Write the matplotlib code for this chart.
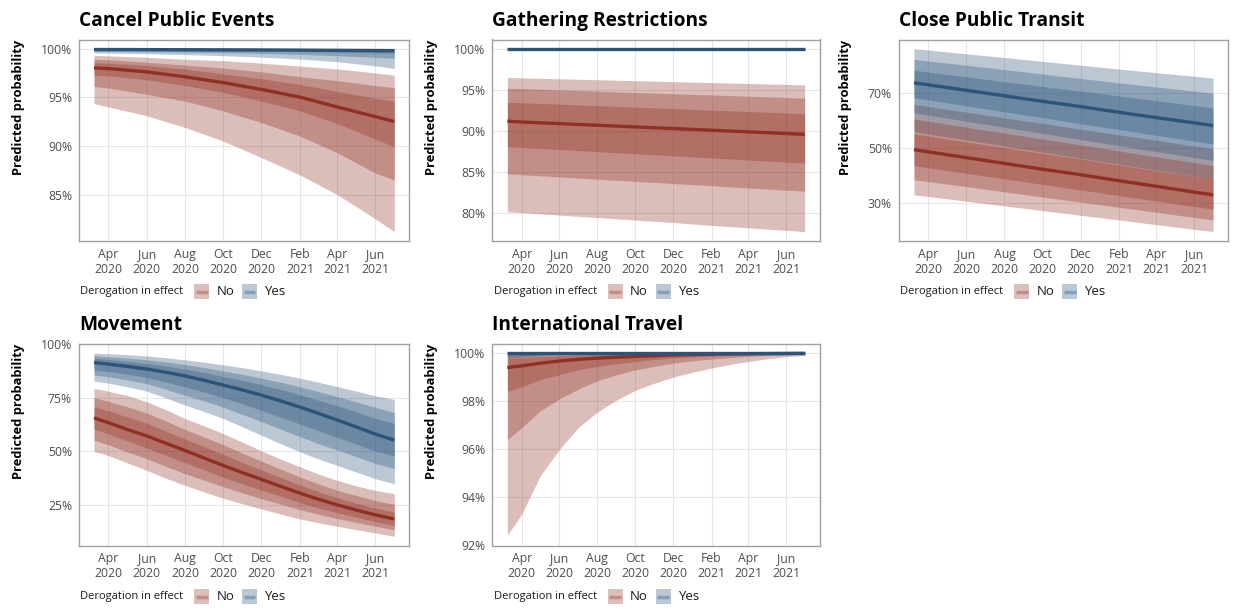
import numpy as np
import pandas as pd
import matplotlib
matplotlib.use("Agg")
import matplotlib.pyplot as plt
import matplotlib.dates as mdates
from matplotlib.patches import Rectangle
from matplotlib.lines import Line2D
from matplotlib.ticker import FuncFormatter

plt.rcParams['font.family'] = ['Open Sans', 'Noto Sans', 'DejaVu Sans']

# prediction dates (bi-monthly grid, and a monthly one for the curved panels)
dates_q = pd.to_datetime(["2020-03-09", "2020-04-01", "2020-06-01", "2020-08-01", "2020-10-01",
                          "2020-12-01", "2021-02-01", "2021-04-01", "2021-06-01", "2021-07-01"])
dates_m = pd.to_datetime(["2020-03-09", "2020-04-01", "2020-05-01", "2020-06-01", "2020-07-01",
                          "2020-08-01", "2020-09-01", "2020-10-01", "2020-11-01", "2020-12-01",
                          "2021-01-01", "2021-02-01", "2021-03-01", "2021-04-01", "2021-05-01",
                          "2021-06-01", "2021-07-01"])

# Cancel Public Events
cpe_no_fit = [98.0, 97.95, 97.6, 97.1, 96.5, 95.8, 95.0, 94.0, 93.0, 92.5]
cpe_no_lo95 = [94.35, 94.0, 93.1, 91.9, 90.5, 88.8, 87.0, 85.0, 82.5, 81.2]
cpe_no_hi95 = [99.3, 99.25, 99.1, 98.9, 98.75, 98.5, 98.2, 97.9, 97.5, 97.25]
cpe_no_lo80 = [96.1, 95.95, 95.3, 94.6, 93.6, 92.4, 91.0, 89.3, 87.2, 86.5]
cpe_no_hi80 = [98.9, 98.85, 98.6, 98.3, 98.0, 97.6, 97.1, 96.7, 96.2, 96.0]
cpe_no_lo50 = [97.25, 97.2, 96.8, 96.2, 95.5, 94.6, 93.6, 92.3, 90.7, 89.9]
cpe_no_hi50 = [98.55, 98.5, 98.25, 97.9, 97.4, 96.9, 96.3, 95.6, 94.9, 94.6]
cpe_yes_fit = [99.9, 99.9, 99.89, 99.88, 99.87, 99.86, 99.84, 99.82, 99.8, 99.79]
cpe_yes_lo95 = [99.55, 99.53, 99.47, 99.38, 99.27, 99.12, 98.92, 98.65, 98.22, 97.95]
cpe_yes_hi95 = [99.99, 99.99, 99.99, 99.99, 99.99, 99.99, 99.99, 99.99, 99.99, 99.99]
cpe_yes_lo80 = [99.72, 99.71, 99.68, 99.63, 99.58, 99.5, 99.4, 99.27, 99.1, 99.0]
cpe_yes_hi80 = [99.98, 99.98, 99.98, 99.98, 99.98, 99.97, 99.97, 99.97, 99.97, 99.97]
cpe_yes_lo50 = [99.82, 99.82, 99.8, 99.78, 99.75, 99.72, 99.68, 99.62, 99.55, 99.52]
cpe_yes_hi50 = [99.96, 99.96, 99.96, 99.96, 99.955, 99.955, 99.95, 99.95, 99.95, 99.95]

# Gathering Restrictions
gr_no_fit = [91.2, 91.1, 90.9, 90.7, 90.5, 90.3, 90.1, 89.9, 89.7, 89.6]
gr_no_lo95 = [80.2, 80.1, 79.8, 79.5, 79.2, 78.9, 78.55, 78.25, 77.95, 77.8]
gr_no_hi95 = [96.5, 96.46, 96.34, 96.23, 96.11, 96.0, 95.88, 95.77, 95.66, 95.6]
gr_no_lo80 = [84.8, 84.7, 84.43, 84.16, 83.9, 83.63, 83.36, 83.1, 82.83, 82.7]
gr_no_hi80 = [95.2, 95.14, 94.99, 94.84, 94.68, 94.53, 94.38, 94.23, 94.08, 94.0]
gr_no_lo50 = [88.1, 88.0, 87.75, 87.5, 87.24, 86.99, 86.73, 86.48, 86.23, 86.1]
gr_no_hi50 = [93.5, 93.43, 93.26, 93.08, 92.9, 92.72, 92.54, 92.37, 92.19, 92.1]
gr_yes_fit = [99.99] * 10
gr_yes_lo95 = [99.96] * 10
gr_yes_hi95 = [100.0] * 10
gr_yes_lo80 = [99.97] * 10
gr_yes_hi80 = [99.995] * 10
gr_yes_lo50 = [99.98] * 10
gr_yes_hi50 = [99.995] * 10

# Close Public Transit
cpt_no_fit = [49.4, 48.6, 46.5, 44.4, 42.3, 40.3, 38.1, 36.1, 34.0, 33.0]
cpt_no_lo95 = [33.0, 32.4, 30.7, 29.0, 27.3, 25.6, 23.9, 22.2, 20.5, 19.7]
cpt_no_hi95 = [65.8, 65.0, 63.0, 60.9, 58.9, 56.8, 54.7, 52.8, 50.7, 49.7]
cpt_no_lo80 = [38.5, 37.8, 36.0, 34.1, 32.2, 30.4, 28.5, 26.7, 24.8, 23.9]
cpt_no_hi80 = [60.5, 59.7, 57.5, 55.4, 53.2, 51.1, 48.9, 46.8, 44.7, 43.6]
cpt_no_lo50 = [43.6, 42.8, 40.8, 38.8, 36.8, 34.8, 32.7, 30.8, 28.8, 27.8]
cpt_no_hi50 = [55.1, 54.3, 52.2, 50.1, 48.0, 46.0, 43.8, 41.8, 39.7, 38.7]
cpt_yes_fit = [73.6, 72.9, 70.9, 68.9, 66.9, 65.0, 62.9, 61.0, 59.1, 58.1]
cpt_yes_lo95 = [55.9, 55.1, 52.9, 50.7, 48.5, 46.3, 44.1, 42.0, 39.8, 38.7]
cpt_yes_hi95 = [86.0, 85.5, 84.1, 82.8, 81.4, 80.0, 78.6, 77.3, 76.0, 75.3]
cpt_yes_lo80 = [62.7, 61.9, 59.7, 57.5, 55.3, 53.1, 50.8, 48.7, 46.5, 45.4]
cpt_yes_hi80 = [82.1, 81.5, 80.0, 78.4, 76.8, 75.2, 73.6, 72.1, 70.6, 69.8]
cpt_yes_lo50 = [68.2, 67.4, 65.3, 63.1, 61.0, 58.8, 56.7, 54.6, 52.5, 51.4]
cpt_yes_hi50 = [78.2, 77.5, 75.8, 74.0, 72.3, 70.6, 68.8, 67.1, 65.4, 64.5]

# Movement (monthly)
mov_no_fit = [65.6, 63.3, 60.2, 57.2, 53.8, 50.4, 46.8, 43.4, 40.0, 36.9,
              33.6, 30.4, 27.7, 25.0, 22.6, 20.3, 18.4]
mov_no_lo95 = [50.0, 48.0, 44.6, 41.1, 37.5, 34.1, 31.0, 28.1, 25.5, 23.1,
               20.7, 18.4, 16.7, 15.0, 13.4, 11.9, 10.3]
mov_no_hi95 = [79.4, 78.0, 76.0, 73.1, 69.5, 65.3, 61.8, 58.3, 54.2, 50.2,
               46.3, 42.7, 39.5, 36.4, 33.9, 31.7, 30.2]
mov_no_lo80 = [55.2, 53.0, 49.7, 46.6, 43.0, 39.6, 36.5, 33.5, 30.6, 27.9,
               25.3, 22.7, 20.7, 18.6, 16.8, 15.0, 13.3]
mov_no_hi80 = [75.0, 73.3, 70.8, 67.9, 64.2, 60.2, 56.6, 53.1, 49.1, 45.4,
               41.6, 38.0, 34.9, 31.8, 29.4, 27.0, 25.2]
mov_no_lo50 = [60.3, 58.1, 54.9, 51.6, 48.1, 44.7, 41.3, 37.9, 34.8, 31.9,
               29.0, 26.0, 23.6, 21.3, 19.2, 17.1, 15.3]
mov_no_hi50 = [70.8, 68.9, 66.0, 63.1, 59.5, 55.8, 52.1, 48.6, 44.8, 41.3,
               37.7, 34.2, 31.2, 28.3, 25.8, 23.5, 21.6]
mov_yes_fit = [91.4, 90.7, 89.6, 88.4, 86.9, 85.2, 83.1, 80.9, 78.6, 76.2,
               73.5, 70.6, 67.8, 64.6, 61.4, 58.0, 55.2]
mov_yes_lo95 = [82.8, 81.8, 80.1, 78.1, 75.0, 71.6, 68.5, 65.3, 61.4, 57.5,
                53.5, 49.7, 46.5, 43.4, 40.3, 37.2, 34.8]
mov_yes_hi95 = [95.8, 95.5, 95.1, 94.5, 93.7, 92.7, 91.6, 90.3, 89.0, 87.5,
                85.9, 84.1, 82.3, 80.2, 78.1, 75.9, 74.2]
mov_yes_lo80 = [85.6, 84.8, 83.3, 81.6, 79.0, 76.2, 73.5, 70.6, 67.2, 63.9,
                60.3, 56.8, 53.7, 50.6, 47.5, 44.3, 41.9]
mov_yes_hi80 = [94.7, 94.1, 93.5, 92.7, 91.7, 90.5, 89.1, 87.5, 85.9, 84.1,
                82.2, 80.1, 78.0, 75.5, 73.1, 70.5, 68.0]
mov_yes_lo50 = [88.0, 87.3, 86.0, 84.5, 82.4, 80.0, 77.6, 75.0, 72.1, 69.1,
                65.9, 62.7, 59.7, 56.5, 53.4, 50.1, 47.8]
mov_yes_hi50 = [93.4, 92.8, 92.0, 91.0, 89.8, 88.4, 86.8, 84.9, 83.1, 81.1,
                78.8, 76.4, 73.9, 71.2, 68.4, 65.3, 63.0]

# International Travel (monthly)
it_no_fit = [99.40, 99.47, 99.58, 99.67, 99.74, 99.79, 99.83, 99.86, 99.89, 99.92,
             99.94, 99.955, 99.965, 99.975, 99.98, 99.985, 99.99]
it_no_lo95 = [92.43, 93.3, 94.9, 96.0, 96.9, 97.55, 98.05, 98.45, 98.75, 99.0,
              99.2, 99.38, 99.52, 99.65, 99.76, 99.85, 99.9]
it_no_hi95 = [99.955, 99.965, 99.975, 99.985, 99.99, 99.99, 99.995, 99.995, 99.995, 99.995,
              99.995, 99.995, 99.995, 99.995, 99.995, 99.995, 99.995]
it_no_lo80 = [96.4, 96.9, 97.6, 98.1, 98.5, 98.85, 99.1, 99.3, 99.45, 99.58,
              99.68, 99.75, 99.81, 99.86, 99.9, 99.93, 99.95]
it_no_hi80 = [99.9, 99.92, 99.945, 99.96, 99.97, 99.98, 99.985, 99.99, 99.99, 99.99,
              99.995, 99.995, 99.995, 99.995, 99.995, 99.995, 99.995]
it_no_lo50 = [98.4, 98.6, 98.9, 99.1, 99.3, 99.45, 99.56, 99.65, 99.73, 99.8,
              99.84, 99.87, 99.9, 99.93, 99.95, 99.96, 99.97]
it_no_hi50 = [99.78, 99.81, 99.86, 99.89, 99.92, 99.94, 99.955, 99.965, 99.975, 99.98,
              99.985, 99.99, 99.99, 99.99, 99.995, 99.995, 99.995]
it_yes_fit = [99.995] * 17
it_yes_lo95 = [99.8, 99.84, 99.9, 99.94, 99.965, 99.98, 99.985, 99.99, 99.99, 99.99,
               99.99, 99.99, 99.99, 99.99, 99.99, 99.99, 99.99]
it_yes_hi95 = [100.0] * 17
it_yes_lo80 = [99.88, 99.9, 99.94, 99.96, 99.975, 99.985, 99.99, 99.99, 99.99, 99.99,
               99.995, 99.995, 99.995, 99.995, 99.995, 99.995, 99.995]
it_yes_hi80 = [100.0] * 17
it_yes_lo50 = [99.94, 99.95, 99.97, 99.98, 99.985, 99.99, 99.99, 99.995, 99.995, 99.995,
               99.995, 99.995, 99.995, 99.995, 99.995, 99.995, 99.995]
it_yes_hi50 = [100.0] * 17

x_breaks = pd.to_datetime(["2020-04-01", "2020-06-01", "2020-08-01", "2020-10-01",
                           "2020-12-01", "2021-02-01", "2021-04-01", "2021-06-01"])

RED = "#8A2619"
BLUE = "#204B73"
RED_LINE = "#8E3124"
BLUE_LINE = "#2B5478"


def group(prefix):
    g = globals()
    return {k: g[prefix + "_" + k] for k in
            ["fit", "lo95", "hi95", "lo80", "hi80", "lo50", "hi50"]}


panels = [
    ("Cancel Public Events", dates_q, "cpe", [85, 90, 95, 100]),
    ("Gathering Restrictions", dates_q, "gr", [80, 85, 90, 95, 100]),
    ("Close Public Transit", dates_q, "cpt", [30, 50, 70]),
    ("Movement", dates_m, "mov", [25, 50, 75, 100]),
    ("International Travel", dates_m, "it", [92, 94, 96, 98, 100]),
]

W, H = 1233, 608
fig = plt.figure(figsize=(W / 100, H / 100), dpi=100)

cols = [(79, 409.3), (492.5, 819.5), (899, 1228)]
rows = [(39.5, 240.7), (344, 545.5)]


def legend_row(x0, yc):
    fig.text((x0 + 1) / W, 1 - yc / H, "Derogation in effect", fontsize=8,
             ha="left", va="center", color="#1a1a1a")
    for dx, bg, ln, lab in [(115, "#DCBEBA", "#C38E87", "No"),
                            (163, "#B9C8D4", "#86A0B8", "Yes")]:
        fig.patches.append(Rectangle(((x0 + dx) / W, 1 - (yc + 7.5) / H), 15 / W, 15 / H,
                                     transform=fig.transFigure, facecolor=bg,
                                     edgecolor="none"))
        fig.lines.append(Line2D([(x0 + dx + 1.5) / W, (x0 + dx + 13.5) / W],
                                [1 - yc / H] * 2, transform=fig.transFigure,
                                color=ln, lw=2.5, solid_capstyle="butt"))
        fig.text((x0 + dx + 22.5) / W, 1 - yc / H, lab, fontsize=9.5,
                 ha="left", va="center", color="#1a1a1a")


for i, (title, dates, key, yticks) in enumerate(panels):
    left, right = cols[i % 3]
    top, bottom = rows[i // 3]
    ax = fig.add_axes([left / W, 1 - bottom / H, (right - left) / W, (bottom - top) / H])
    no, yes = group(key + "_no"), group(key + "_yes")

    for lo, hi in [("lo95", "hi95"), ("lo80", "hi80"), ("lo50", "hi50")]:
        for g, c in [(no, RED), (yes, BLUE)]:
            ax.fill_between(dates, g[lo], g[hi], color=c, alpha=0.3, lw=0)
    ax.plot(dates, no["fit"], color=RED_LINE, lw=2.4, solid_capstyle="butt")
    ax.plot(dates, yes["fit"], color=BLUE_LINE, lw=2.4, solid_capstyle="butt")

    # ggplot-style 5% expansion
    vals = np.concatenate([np.asarray(v) for g in (no, yes) for v in g.values()])
    lo_v, hi_v = vals.min(), vals.max()
    pad = (hi_v - lo_v) * 0.05
    ax.set_ylim(lo_v - pad, hi_v + pad)
    xs = mdates.date2num(dates)
    xpad = (xs[-1] - xs[0]) * 0.05
    ax.set_xlim(xs[0] - xpad, xs[-1] + xpad)

    ax.set_yticks(yticks)
    ax.yaxis.set_major_formatter(FuncFormatter(lambda v, p: f"{v:.0f}%"))
    ax.set_xticks(mdates.date2num(x_breaks))
    ax.xaxis.set_major_formatter(mdates.DateFormatter("%b\n%Y"))
    ax.tick_params(length=0, labelsize=8.8, labelcolor="#4D4D4D", pad=5)
    ax.grid(color="#E6E6E6", lw=0.8)
    ax.set_axisbelow(True)
    for s in ax.spines.values():
        s.set_color("#A0A0A0")
        s.set_linewidth(1.0)

    ax.set_ylabel("Predicted probability", fontsize=9.3, fontweight="bold",
                  labelpad=11.5, loc="top")
    ax.set_title(title, loc="left", fontsize=13.8, fontweight="bold", pad=10)

    legend_row(left, bottom + 51)

fig.savefig("out.png", dpi=100)
